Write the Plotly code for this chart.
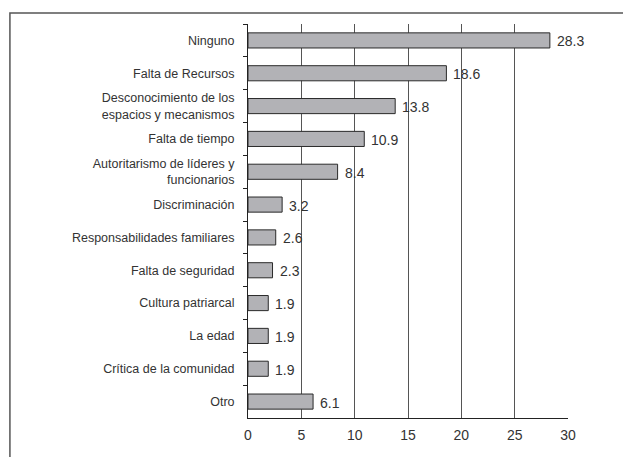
import plotly.graph_objects as go

categories = [
    "Ninguno",
    "Falta de Recursos",
    "Desconocimiento de los<br>espacios y mecanismos",
    "Falta de tiempo",
    "Autoritarismo de líderes y<br>funcionarios",
    "Discriminación",
    "Responsabilidades familiares",
    "Falta de seguridad",
    "Cultura patriarcal",
    "La edad",
    "Crítica de la comunidad",
    "Otro",
]
values = [28.3, 18.6, 13.8, 10.9, 8.4, 3.2, 2.6, 2.3, 1.9, 1.9, 1.9, 6.1]
value_labels = [f"{v:.1f}" for v in values]
x_ticks = [0, 5, 10, 15, 20, 25, 30]

TEXT = "#333333"
FONT = "Liberation Sans, Arial, sans-serif"

fig = go.Figure(go.Bar(
    y=categories, x=values, orientation="h",
    marker=dict(color="#b2b2b6", line=dict(color="#2a2a2a", width=1)),
    hoverinfo="skip",
))

# value labels to the right of each bar
for c, v, t in zip(categories, values, value_labels):
    fig.add_annotation(x=v, y=c, text=t, showarrow=False, xanchor="left",
                       xshift=5, yshift=-1, font=dict(size=14, color=TEXT, family=FONT))

# frame (cropped on the right/bottom like the source picture)
fig.add_shape(type="rect", xref="paper", yref="paper",
              x0=-0.744, x1=2.0, y0=-2.0, y1=1.028,
              line=dict(color="#555555", width=1.5), layer="below")

fig.update_layout(
    width=631, height=457,
    margin=dict(l=240, r=71, t=16, b=47),
    paper_bgcolor="white", plot_bgcolor="white",
    bargap=0.54, showlegend=False,
    font=dict(family=FONT, color=TEXT),
    xaxis=dict(range=[0, 30], tickvals=x_ticks, showgrid=True,
               gridcolor="#555555", gridwidth=1, zeroline=False,
               showline=True, linecolor="#222222", linewidth=1,
               ticks="", tickfont=dict(size=14, color=TEXT), ticklabelstandoff=4),
    yaxis=dict(autorange="reversed", showline=True, linecolor="#222222", linewidth=1,
               ticks="outside", tickson="boundaries", ticklen=4, tickcolor="#222222",
               tickfont=dict(size=12.5, color=TEXT), ticklabelstandoff=10,
               showgrid=False),
)

fig.write_html("out.html")
